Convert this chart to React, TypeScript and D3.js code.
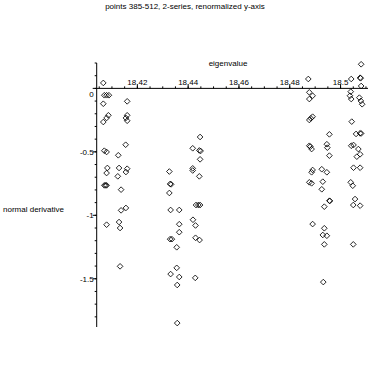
import React from 'react';
import * as d3 from 'd3';

// eigenvalue / normal derivative pairs
const seriesA: [number, number][] = [
  [18.4066, 0.043], [18.407, -0.054], [18.4079, -0.054], [18.4088, -0.054],
  [18.4066, -0.121], [18.4086, -0.212], [18.4079, -0.233], [18.4066, -0.265],
  [18.407, -0.491], [18.4079, -0.501], [18.4082, -0.627], [18.4079, -0.667],
  [18.407, -0.764], [18.4075, -0.764], [18.4079, -0.764], [18.4079, -1.074],
  [18.4326, -0.655], [18.4329, -0.753], [18.4333, -0.756], [18.4326, -0.824],
  [18.4331, -0.958], [18.4365, -0.958], [18.4365, -1.07], [18.4365, -1.133],
  [18.4329, -1.188], [18.4336, -1.188], [18.4355, -1.252], [18.4355, -1.414],
  [18.4331, -1.463], [18.4365, -1.486], [18.4357, -1.549], [18.4357, -1.849],
  [18.4873, 0.074], [18.4877, -0.031], [18.489, -0.058], [18.4877, -0.084],
  [18.4883, -0.236], [18.489, -0.223], [18.4877, -0.249], [18.4956, -0.362],
  [18.4877, -0.452], [18.4881, -0.459], [18.4886, -0.478], [18.4946, -0.44],
  [18.4948, -0.467], [18.4956, -0.53], [18.489, -0.643], [18.4886, -0.661],
  [18.4926, -0.637], [18.4946, -0.661], [18.4877, -0.74], [18.4886, -0.748],
  [18.493, -0.735], [18.4926, -0.795], [18.4956, -0.885], [18.4958, -0.887],
  [18.4936, -0.932], [18.489, -1.069], [18.4936, -1.102], [18.493, -1.155],
  [18.4946, -1.161], [18.4936, -1.229], [18.4932, -1.526],
];

const seriesB: [number, number][] = [
  [18.416, -0.102], [18.416, -0.212], [18.4155, -0.233], [18.416, -0.255],
  [18.4154, -0.444], [18.4125, -0.527], [18.4128, -0.627], [18.4123, -0.693],
  [18.416, -0.633], [18.4155, -0.659], [18.4136, -0.798], [18.4136, -0.961],
  [18.4155, -0.942], [18.4128, -1.053], [18.4132, -1.1], [18.4132, -1.402],
  [18.4447, -0.383], [18.4418, -0.472], [18.4444, -0.489], [18.4449, -0.493],
  [18.4447, -0.559], [18.4418, -0.63], [18.4418, -0.647], [18.4444, -0.693],
  [18.4431, -0.919], [18.444, -0.919], [18.4447, -0.919], [18.4419, -1.035],
  [18.4429, -1.08], [18.4429, -1.177], [18.4445, -1.195], [18.4428, -1.493],
  [18.5042, 0.074], [18.5077, 0.084], [18.5079, 0.08], [18.5081, 0.19],
  [18.5081, 0.019], [18.504, -0.026], [18.5037, -0.058], [18.5042, -0.084],
  [18.5074, -0.073], [18.508, -0.099], [18.5085, -0.125], [18.5044, -0.262],
  [18.5061, -0.359], [18.5077, -0.354], [18.5081, -0.355], [18.5042, -0.452],
  [18.5051, -0.446], [18.507, -0.478], [18.5077, -0.519], [18.5064, -0.538],
  [18.5051, -0.625], [18.5077, -0.625], [18.504, -0.74], [18.5048, -0.767],
  [18.5057, -0.872], [18.505, -0.919], [18.5077, -0.924], [18.505, -1.229],
];

const xTicks = [18.42, 18.44, 18.46, 18.48, 18.5];
const xTickLabels = ['18.42', '18.44', '18.46', '18.48', '18.5'];
const yTicks = [0, -0.5, -1, -1.5];
const yTickLabels = ['0', '-0.5', '-1', '-1.5'];

const title = 'points 385-512, 2-series, renormalized y-axis';
const xTitle = 'eigenvalue';
const yTitle = 'normal derivative';

const W = 370;
const H = 370;
const font = '"Liberation Sans", Arial, sans-serif';

export default function App() {
  const x = d3.scaleLinear().domain([18.404, 18.5108]).range([96.7, 368]);
  const y = d3.scaleLinear().domain([0.2, -1.88]).range([63, 327]);

  const x0 = x.range()[0];
  const y0 = y(0);

  const xMinor = d3.range(18.405, 18.5101, 0.005);
  const yMinor = d3.range(0.2, -1.85, -0.1);

  // open diamond = square turned 45 degrees
  const marker = d3.symbol().type(d3.symbolSquare).size(16);
  const allPoints = [...seriesA, ...seriesB];

  return (
    <svg
      width={W}
      height={H}
      style={{ position: 'absolute', left: 0, top: 0, background: '#fff' }}
      fontFamily={font}
    >
      <rect width={W} height={H} fill="#fff" />
      <text x={185} y={9} fontSize={8} textAnchor="middle">{title}</text>
      <text x={228} y={66} fontSize={8} textAnchor="middle">{xTitle}</text>
      <text x={3} y={212} fontSize={8}>{yTitle}</text>

      {/* axes */}
      <line x1={x0} x2={x.range()[1]} y1={y0} y2={y0} stroke="#000" />
      <line x1={x0} x2={x0} y1={y.range()[0]} y2={y.range()[1]} stroke="#000" />

      {xMinor.map((v, i) => (
        <line key={'xm' + i} x1={x(v)} x2={x(v)} y1={y0} y2={y0 - 2} stroke="#000" />
      ))}
      {xTicks.map((v, i) => (
        <g key={'xt' + i}>
          <line x1={x(v)} x2={x(v)} y1={y0} y2={y0 - 4} stroke="#000" />
          <text x={x(v)} y={y0 - 3} fontSize={8} textAnchor="middle">{xTickLabels[i]}</text>
        </g>
      ))}

      {yMinor.map((v, i) => (
        <line key={'ym' + i} x1={x0} x2={x0 - 2} y1={y(v)} y2={y(v)} stroke="#000" />
      ))}
      {yTicks.map((v, i) => (
        <g key={'yt' + i}>
          <line x1={x0} x2={x0 - 4} y1={y(v)} y2={y(v)} stroke="#000" />
          <text
            x={x0 - 3}
            y={Math.max(y(v), y0 + 6) + 3}
            fontSize={8}
            textAnchor="end"
          >
            {yTickLabels[i]}
          </text>
        </g>
      ))}

      {allPoints.map(([ev, nd], i) => (
        <path
          key={'p' + i}
          d={marker() as string}
          transform={`translate(${x(ev)},${y(nd)}) rotate(45)`}
          fill="none"
          stroke="#000"
          strokeWidth={0.8}
        />
      ))}
    </svg>
  );
}
